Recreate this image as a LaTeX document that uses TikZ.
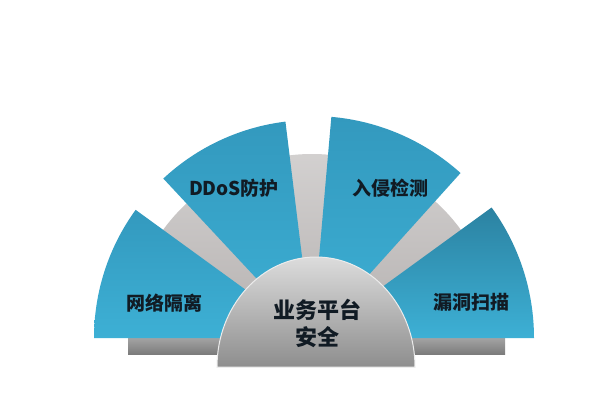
\documentclass[tikz,border=0pt]{standalone}
\usepackage{fontspec}
\newfontfamily\cjkb{Noto Sans CJK SC Black}
\definecolor{txt}{HTML}{111B24}
\definecolor{bladeA}{HTML}{3399BE}
\definecolor{bladeB}{HTML}{3DB0D5}
\definecolor{graybk}{HTML}{B5B1B0}
\definecolor{barA}{HTML}{A3A3A3}
\definecolor{barB}{HTML}{7C7C7C}
\definecolor{hubA}{HTML}{DCDCDC}
\definecolor{hubB}{HTML}{8E8E8E}
\begin{document}
\begin{tikzpicture}[x=1pt,y=1pt,
  blade/.style={top color=bladeA, bottom color=bladeB},
  lbl/.style={font=\cjkb\fontsize{19}{23}\selectfont, text=txt, inner sep=0pt},
  hublbl/.style={font=\cjkb\fontsize{22}{27}\selectfont, text=txt, inner sep=0pt, align=center},
]
\useasboundingbox (0,0) rectangle (600,400);
\fill[white] (0,0) rectangle (600,400);
\coordinate (C) at (312,62);
% gray backdrop fan
\shade[top color=graybk!60!white, bottom color=graybk] (C) -- ++(0:184) arc[start angle=0,end angle=180,radius=184] -- cycle;
% base bar
\shade[top color=barA, bottom color=barB] (128,46) rectangle (505,62);
% blades
\shade[blade] (C) -- ++(144:218) arc[start angle=144,end angle=180,radius=218] -- cycle;
\shade[blade] (C) -- ++(97:218) arc[start angle=97,end angle=133,radius=218] -- cycle;
\shade[blade] (C) -- ++(48:222) arc[start angle=48,end angle=85,radius=222] -- cycle;
\shade[top color=bladeA!85!black, bottom color=bladeB] (C) -- ++(0:222) arc[start angle=0,end angle=36,radius=222] -- cycle;
% hub
\shade[top color=hubA, bottom color=hubB, draw=white!85!gray, line width=1pt] (217,33) arc[start angle=180,end angle=0,x radius=99,y radius=110] -- cycle;
% labels
\node[lbl] (ddos) at (234,212) {DDoS防护};
\node[lbl] (ids) at (390,212) {入侵检测};
\node[lbl] (net) at (164,97) {网络隔离};
\node[lbl] (vuln) at (471,98) {漏洞扫描};
\node[hublbl] (hub) at (317,77) {业务平台\\安全};
\end{tikzpicture}
\end{document}
